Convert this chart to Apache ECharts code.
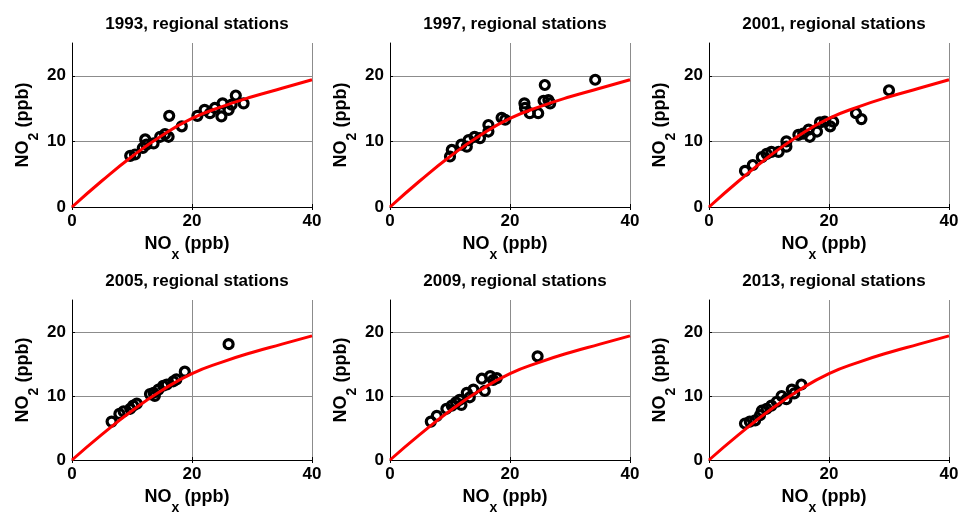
<!DOCTYPE html>
<html>
<head>
<meta charset="utf-8">
<script src="https://cdn.jsdelivr.net/npm/echarts@6/dist/echarts.min.js"></script>
<style>
  html, body { margin: 0; padding: 0; background: #fff; }
  #main { width: 962px; height: 516px; }
</style>
</head>
<body>
<div id="main"></div>
<script>
// years shown, one panel each
const years = ['1993', '1997', '2001', '2005', '2009', '2013'];

// fitted curve (same in every panel)
const curveNox = [0, 5, 10, 15, 20, 25, 30, 35, 40];
const curveNo2 = [0, 4.0, 7.7, 10.9, 13.5, 15.3, 16.8, 18.1, 19.4];

// station values, NOx / NO2 (ppb)
const nox1993 = [9.7, 10.5, 11.8, 12.2, 12.4, 13.6, 14.7, 15.5, 16.1, 16.2, 18.3, 20.9, 22.1, 23.0, 23.8, 24.9, 25.1, 26.1, 26.6, 27.3, 28.6];
const no21993 = [7.8, 8.0, 9.0, 10.3, 9.5, 9.7, 10.7, 11.1, 10.7, 13.9, 12.3, 13.9, 14.8, 14.3, 15.1, 13.8, 15.8, 14.8, 15.6, 17.0, 15.8];

const nox1997 = [10.0, 10.3, 11.9, 12.8, 13.1, 14.1, 15.0, 16.4, 16.4, 18.6, 19.2, 22.4, 22.5, 23.3, 24.7, 25.8, 25.6, 26.4, 26.7, 34.2];
const no21997 = [7.7, 8.7, 9.5, 9.2, 10.2, 10.7, 10.5, 12.5, 11.5, 13.6, 13.3, 15.8, 15.1, 14.3, 14.3, 18.6, 16.2, 16.3, 15.8, 19.4];

const nox2001 = [6.0, 7.3, 8.8, 9.6, 10.4, 11.6, 12.9, 12.9, 14.9, 15.7, 16.6, 16.8, 18.0, 18.5, 19.3, 20.2, 20.7, 24.5, 25.4, 30.0];
const no22001 = [5.5, 6.4, 7.6, 8.1, 8.4, 8.4, 10.0, 9.2, 11.0, 11.2, 11.8, 10.7, 11.5, 12.9, 13.0, 12.3, 13.0, 14.3, 13.4, 17.8];

const nox2005 = [6.6, 7.9, 8.6, 9.7, 10.2, 10.8, 13.0, 13.6, 13.8, 14.4, 15.2, 15.8, 16.9, 17.4, 18.8, 26.1];
const no22005 = [6.0, 7.2, 7.6, 8.0, 8.5, 8.8, 10.3, 10.5, 10.0, 11.0, 11.6, 11.8, 12.3, 12.6, 13.8, 18.1];

const nox2009 = [6.8, 7.8, 9.4, 10.3, 11.0, 11.6, 11.9, 12.8, 13.3, 13.9, 15.3, 15.8, 16.7, 17.2, 17.8, 24.6];
const no22009 = [6.0, 6.9, 8.0, 8.5, 9.0, 9.4, 8.6, 10.5, 9.8, 11.0, 12.7, 10.8, 13.1, 12.5, 12.8, 16.2];

const nox2013 = [6.0, 6.8, 7.7, 8.5, 8.8, 9.6, 10.4, 11.3, 12.1, 12.9, 13.8, 14.2, 15.4];
const no22013 = [5.7, 6.0, 6.2, 7.0, 7.7, 8.0, 8.5, 9.1, 10.0, 9.5, 11.0, 10.4, 11.8];

const noxAll = [nox1993, nox1997, nox2001, nox2005, nox2009, nox2013];
const no2All = [no21993, no21997, no22001, no22005, no22009, no22013];

const lefts = [72, 390, 709];
const tops = [43, 300];
const W = 240, H = 164;
const font = 'Liberation Sans, Arial, sans-serif';

function zip(a, b) {
  let out = [];
  for (let i = 0; i < a.length; i++) out.push([a[i], b[i]]);
  return out;
}

const nameRich = {
  b: { fontFamily: font, fontSize: 18, fontWeight: 'bold', color: '#000', lineHeight: 22 },
  s: { fontFamily: font, fontSize: 14, fontWeight: 'bold', color: '#000', verticalAlign: 'bottom', lineHeight: 12, padding: [0, 0, -7, 0] }
};

let grid = [], xAxis = [], yAxis = [], series = [], title = [];

for (let i = 0; i < years.length; i++) {
  const left = lefts[i % 3];
  const top = tops[Math.floor(i / 3)];
  grid.push({ left: left, top: top, width: W, height: H });
  title.push({
    text: years[i] + ', regional stations',
    left: left + W / 2,
    top: top - 32,
    textAlign: 'center',
    textStyle: { fontFamily: font, fontSize: 17, fontWeight: 'bold', color: '#000' }
  });
  // bottom x axis
  xAxis.push({
    type: 'value', gridIndex: i, min: 0, max: 40, interval: 20,
    name: '{b|NO}{s|x}{b| (ppb)}',
    nameLocation: 'middle', nameGap: 26,
    nameTextStyle: { rich: nameRich, padding: [0, 10, 0, 0] },
    axisLine: { onZero: false, lineStyle: { color: '#000', width: 1 } },
    axisTick: { inside: true, length: 3, lineStyle: { color: '#000' } },
    axisLabel: { margin: 6, fontFamily: font, fontSize: 17, fontWeight: 'bold', color: '#000' },
    splitLine: { show: true, lineStyle: { color: '#8c8c8c', width: 1 } }
  });
  // top x axis, ticks only
  xAxis.push({
    type: 'value', gridIndex: i, min: 0, max: 40, interval: 20, position: 'top',
    axisLine: { show: false },
    axisTick: { inside: true, length: 3, lineStyle: { color: '#000' } },
    axisLabel: { show: false },
    splitLine: { show: false }
  });
  // left y axis
  yAxis.push({
    type: 'value', gridIndex: i, min: 0, max: 25, interval: 10,
    name: '{b|NO}{s|2}{b| (ppb)}',
    nameLocation: 'middle', nameGap: 38,
    nameTextStyle: { rich: nameRich },
    axisLine: { onZero: false, lineStyle: { color: '#000', width: 1 } },
    axisTick: { inside: true, length: 3, lineStyle: { color: '#000' } },
    axisLabel: { margin: 6, showMaxLabel: false, fontFamily: font, fontSize: 17, fontWeight: 'bold', color: '#000',
      formatter: function (v) { return v === 25 ? '' : v; } },
    splitLine: { show: true, showMaxLine: false, lineStyle: { color: '#8c8c8c', width: 1 } }
  });

  series.push({
    type: 'scatter', xAxisIndex: i * 2, yAxisIndex: i,
    data: zip(noxAll[i], no2All[i]),
    symbol: 'circle', symbolSize: 9,
    itemStyle: { color: 'rgba(0,0,0,0)', borderColor: '#000', borderWidth: 3.2, opacity: 1 },
    z: 2
  });
  series.push({
    type: 'line', xAxisIndex: i * 2, yAxisIndex: i,
    data: zip(curveNox, curveNo2),
    showSymbol: false, smooth: true,
    lineStyle: { color: '#ff0000', width: 3 },
    z: 3
  });
}

const myChart = echarts.init(document.getElementById('main'), null, { renderer: 'canvas' });
myChart.setOption({
  animation: false,
  backgroundColor: '#fff',
  title: title,
  grid: grid,
  xAxis: xAxis,
  yAxis: yAxis,
  series: series
});
</script>
</body>
</html>
